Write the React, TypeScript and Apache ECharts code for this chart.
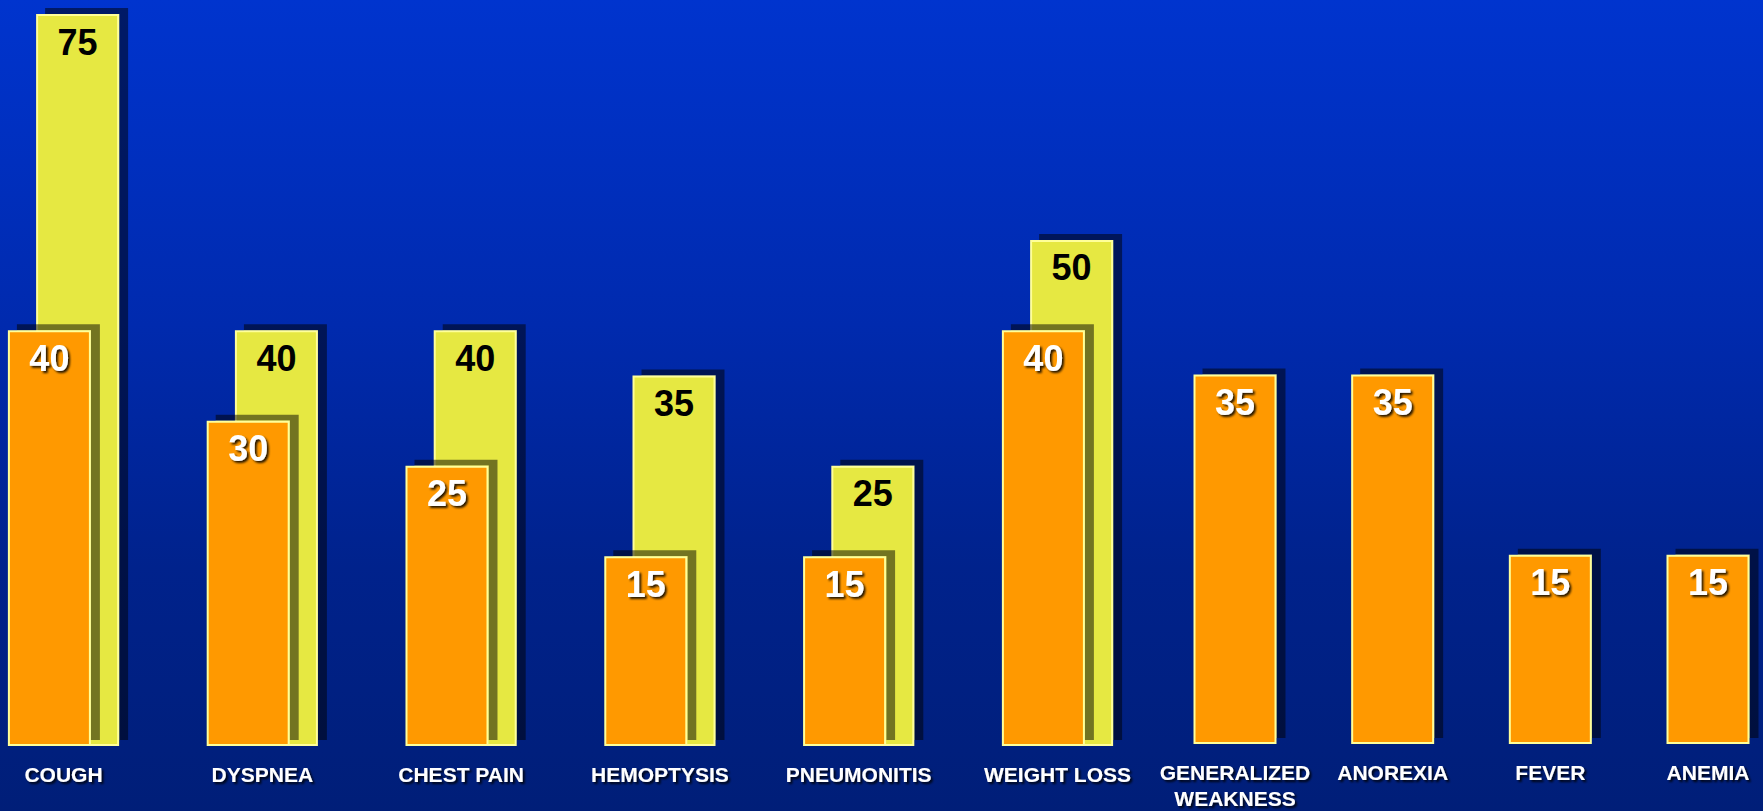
import React, { useEffect, useRef } from 'react';
import * as echarts from 'echarts';

const categories = [
  'COUGH',
  'DYSPNEA',
  'CHEST PAIN',
  'HEMOPTYSIS',
  'PNEUMONITIS',
  'WEIGHT LOSS',
  'GENERALIZED\nWEAKNESS',
  'ANOREXIA',
  'FEVER',
  'ANEMIA',
];
const yellowValues: (number | null)[] = [75, 40, 40, 35, 25, 50, null, null, null, null];
const orangeValues: number[] = [40, 30, 25, 15, 15, 40, 35, 35, 15, 15];
const axisMin = -6;
const axisMax = 75;

const FONT = '"Liberation Sans", Arial, Helvetica, sans-serif';

export default function App() {
  const ref = useRef<HTMLDivElement>(null);

  useEffect(() => {
    const chart = echarts.init(ref.current as HTMLDivElement, null, { renderer: 'svg' });
    const pairCount = yellowValues.filter((v) => v != null).length;
    const catsA = categories.slice(0, pairCount);
    const catsB = categories.slice(pairCount);

    const barStyleBase = {
      borderColor: '#FFFF99',
      borderWidth: 2,
      shadowColor: 'rgba(0,0,0,0.5)',
      shadowBlur: 0,
      shadowOffsetX: 9,
      shadowOffsetY: -6,
    };
    const orangeItem = { ...barStyleBase, color: '#FF9900' };
    const yellowItem = { ...barStyleBase, color: '#E6E843' };

    const yellowLabel = {
      show: true,
      position: 'insideTop',
      distance: 10,
      color: '#000000',
      fontSize: 36,
      fontWeight: 'bold',
      fontFamily: FONT,
      textBorderWidth: 0,
    };
    const orangeLabel = {
      show: true,
      position: 'insideTop',
      distance: 10,
      color: '#FFFFFF',
      fontSize: 36,
      fontWeight: 'bold',
      fontFamily: FONT,
      textBorderWidth: 0,
      textShadowColor: 'rgba(0,0,0,0.85)',
      textShadowBlur: 2,
      textShadowOffsetX: 2,
      textShadowOffsetY: 2,
    };

    const xAxisBase = {
      type: 'category',
      boundaryGap: false,
      axisLine: { show: false },
      axisTick: { show: false },
      splitLine: { show: false },
      axisLabel: {
        interval: 0,
        margin: 15,
        color: '#FFFFFF',
        fontSize: 21,
        fontWeight: 'bold',
        fontFamily: FONT,
        lineHeight: 26,
        textShadowColor: 'rgba(0,0,0,0.85)',
        textShadowBlur: 2,
        textShadowOffsetX: 2,
        textShadowOffsetY: 2,
      },
    };
    const yAxisBase = {
      type: 'value',
      min: axisMin,
      max: axisMax,
      startValue: axisMin,
      show: false,
      splitLine: { show: false },
    };

    chart.setOption({
      animation: false,
      backgroundColor: 'transparent',
      grid: [
        { left: 63.5, right: 1763 - 1057.5, top: 14, bottom: 65, containLabel: false },
        { left: 1235, right: 1763 - 1708, top: 14, bottom: 65, containLabel: false },
      ],
      xAxis: [
        { ...xAxisBase, gridIndex: 0, data: catsA },
        { ...xAxisBase, gridIndex: 1, data: catsB },
      ],
      yAxis: [
        { ...yAxisBase, gridIndex: 0 },
        { ...yAxisBase, gridIndex: 1 },
      ],
      series: [
        {
          name: 'orangeA',
          type: 'bar',
          xAxisIndex: 0,
          yAxisIndex: 0,
          data: orangeValues.slice(0, pairCount),
          barWidth: 83,
          barGap: '-66%',
          z: 3,
          clip: false,
          silent: true,
          itemStyle: orangeItem,
          label: orangeLabel,
        },
        {
          name: 'yellowA',
          type: 'bar',
          xAxisIndex: 0,
          yAxisIndex: 0,
          data: yellowValues.slice(0, pairCount),
          barWidth: 83,
          barGap: '-66%',
          z: 2,
          clip: false,
          silent: true,
          itemStyle: yellowItem,
          label: yellowLabel,
        },
        {
          name: 'orangeB',
          type: 'bar',
          xAxisIndex: 1,
          yAxisIndex: 1,
          data: orangeValues.slice(pairCount),
          barWidth: 83,
          z: 3,
          clip: false,
          silent: true,
          itemStyle: orangeItem,
          label: orangeLabel,
        },
      ],
    });

    return () => {
      chart.dispose();
    };
  }, []);

  return (
    <div
      ref={ref}
      style={{
        position: 'fixed',
        left: 0,
        top: 0,
        width: 1763,
        height: 811,
        background: 'linear-gradient(to bottom, #0034CE 0%, #002AAE 40%, #00228C 70%, #001E78 100%)',
      }}
    />
  );
}
